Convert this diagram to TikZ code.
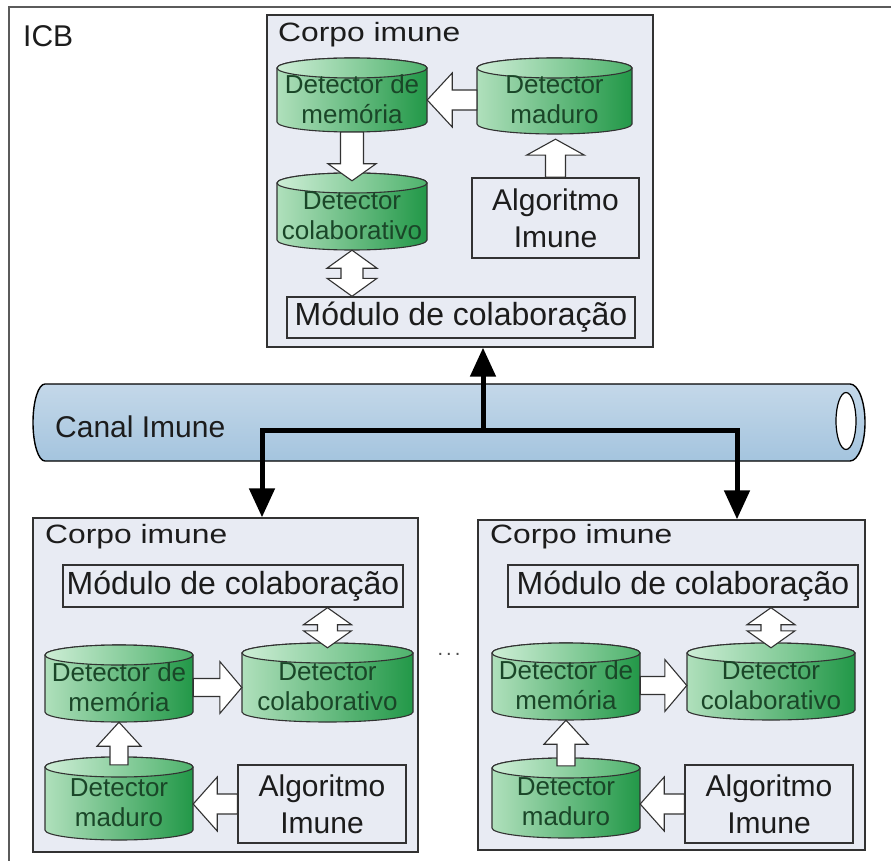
\documentclass[tikz,border=0pt]{standalone}
\usepackage{fontspec}
\setmainfont{Liberation Sans}
\newfontfamily\corpofont{Liberation Sans}[FakeStretch=1.2]
\usetikzlibrary{calc,arrows.meta}
\definecolor{boxline}{RGB}{50,50,50}
\definecolor{corpofill}{RGB}{232,235,243}
\definecolor{cylL}{RGB}{176,224,188}
\definecolor{cylR}{RGB}{34,152,72}
\definecolor{cylTL}{RGB}{206,238,214}
\definecolor{cylTR}{RGB}{78,178,108}
\definecolor{cyltxt}{RGB}{26,70,40}
\definecolor{pipeT}{RGB}{196,216,233}
\definecolor{pipeM}{RGB}{222,234,244}
\definecolor{pipeB}{RGB}{164,196,222}
\definecolor{txt}{RGB}{28,28,28}

\newcommand\cylry{10}
\newcommand\cyl[6]{%
  \path[cylbody] ({#2-#4/2},{#3-#5/2+\cylry}) -- ({#2-#4/2},{#3+#5/2-\cylry})
    arc[start angle=180,end angle=0,x radius={#4/2},y radius=\cylry]
    -- ({#2+#4/2},{#3-#5/2+\cylry})
    arc[start angle=0,end angle=-180,x radius={#4/2},y radius=\cylry] -- cycle;
  \path[cyltop] (#2,{#3-#5/2+\cylry}) ellipse[x radius={#4/2},y radius=\cylry];
  \node[cyltext, minimum width=#4pt, minimum height={(#5-8)*1pt}] (#1) at (#2,{#3+4}) {#6};
}
% single block arrow: from, to, shaft half width, head half width, head length
\newcommand\blockarr[5]{%
  \coordinate (bah) at ($(#2)!#5!(#1)$);
  \filldraw[blockarrow] ($(#1)!#3!90:(#2)$) -- ($(bah)!#3!90:(#2)$) -- ($(bah)!#4!90:(#2)$)
    -- (#2) -- ($(bah)!#4!-90:(#2)$) -- ($(bah)!#3!-90:(#2)$) -- ($(#1)!#3!-90:(#2)$) -- cycle;
}
% double block arrow
\newcommand\dblarr[5]{%
  \coordinate (dah) at ($(#1)!#5!(#2)$);
  \coordinate (dbh) at ($(#2)!#5!(#1)$);
  \filldraw[blockarrow] (#1) -- ($(dah)!#4!90:(#2)$) -- ($(dah)!#3!90:(#2)$)
    -- ($(dbh)!#3!-90:(#1)$) -- ($(dbh)!#4!-90:(#1)$) -- (#2)
    -- ($(dbh)!#4!90:(#1)$) -- ($(dbh)!#3!90:(#1)$)
    -- ($(dah)!#3!-90:(#2)$) -- ($(dah)!#4!-90:(#2)$) -- cycle;
}

\begin{document}
\begin{tikzpicture}[x=1pt,y=-1pt,
  corpo/.style={draw=boxline, line width=1.4pt, fill=corpofill, inner sep=0},
  plainbox/.style={draw=boxline, line width=1.4pt, inner sep=0, align=center, text=txt},
  modfont/.style={font=\fontsize{32}{36}\selectfont},
  algfont/.style={font=\fontsize{30}{37}\selectfont},
  corpolbl/.style={anchor=base west, inner sep=0, text=txt, font=\corpofont\fontsize{26.5}{30}\selectfont},
  cylbody/.style={draw=boxline, line width=1.1pt, left color=cylL, right color=cylR},
  cyltop/.style={draw=boxline, line width=1.1pt, left color=cylTL, right color=cylTR},
  cyltext/.style={inner sep=0, align=center, text=cyltxt, font=\fontsize{26}{30}\selectfont},
  blockarrow/.style={draw=boxline, fill=white, line width=1.1pt, line join=miter},
  bigarrow/.style={draw=black, line width=5pt, line join=miter, -{Triangle[width=25pt,length=29pt]}},
  pipe/.style={draw=black, line width=1.4pt, top color=pipeT, middle color=pipeM, bottom color=pipeB},
  frame/.style={draw=boxline!80, line width=1.6pt}
]
\fill[white] (0,0) rectangle (891,861);
\useasboundingbox (0,0) rectangle (891,861);

% outer frame (ICB)
\draw[frame] (9,861) -- (9,7) -- (891,7);
\node[anchor=base west, inner sep=0, text=txt, font=\fontsize{30}{34}\selectfont] (icb) at (23,47) {ICB};

% ---------- top corpo imune ----------
\node[corpo, minimum width=386pt, minimum height=332pt] (ctop) at (460,181) {};
\node[corpolbl] (ctoplbl) at (278,42) {Corpo imune};
\cyl{memT}{352}{95}{150}{74}{Detector de\\memória}
\cyl{madT}{554.5}{96}{155}{76}{Detector\\maduro}
\cyl{colT}{352}{211.5}{150}{77}{Detector\\colaborativo}
\node[plainbox, algfont, minimum width=167pt, minimum height=80pt] (algT) at (555.5,218) {Algoritmo\\Imune};
\node[plainbox, modfont, minimum width=348pt, minimum height=41pt] (modT) at (461,317.5) {Módulo de colaboração};

\coordinate (t1) at (memT.east |- madT.west);
\blockarr{madT.west}{t1}{10pt}{27pt}{25pt}
\blockarr{memT.south}{colT.north}{11.5pt}{24pt}{17pt}
\coordinate (t3) at ($(algT.north |- madT.south)+(0,5)$);
\blockarr{algT.north}{t3}{10pt}{29pt}{16pt}
\coordinate (t4) at (colT.south |- modT.north);
\dblarr{colT.south}{t4}{11pt}{25pt}{18pt}

% ---------- bottom left corpo imune ----------
\node[corpo, minimum width=385pt, minimum height=334pt] (cbl) at (225.5,685) {};
\node[corpolbl] (cbllbl) at (45,543) {Corpo imune};
\node[plainbox, modfont, minimum width=340pt, minimum height=42pt] (modL) at (233,586) {Módulo de colaboração};
\cyl{memL}{119}{683.5}{148}{77}{Detector de\\memória}
\cyl{colL}{327.5}{682.5}{171}{79}{Detector\\colaborativo}
\cyl{madL}{119}{798.5}{148}{83}{Detector\\maduro}
\node[plainbox, algfont, minimum width=168pt, minimum height=78pt] (algL) at (322,804) {Algoritmo\\Imune};

\coordinate (l1) at (colL.north |- modL.south);
\coordinate (l1b) at ($(colL.north)+(0,-3)$);
\dblarr{l1}{l1b}{10pt}{24pt}{17pt}
\coordinate (l2) at (colL.west |- memL.east);
\blockarr{memL.east}{l2}{9pt}{26pt}{22pt}
\blockarr{madL.north}{memL.south}{9pt}{22pt}{24pt}
\coordinate (l4) at (madL.east |- algL.west);
\blockarr{algL.west}{l4}{10pt}{27pt}{24pt}

% ---------- bottom right corpo imune ----------
\node[corpo, minimum width=387pt, minimum height=330pt] (cbr) at (671.5,685) {};
\node[corpolbl] (cbrlbl) at (490,543) {Corpo imune};
\node[plainbox, modfont, minimum width=350pt, minimum height=42pt] (modR) at (683,586) {Módulo de colaboração};
\cyl{memR}{566}{681.5}{148}{77}{Detector de\\memória}
\cyl{colR}{771}{681.5}{168}{77}{Detector\\colaborativo}
\cyl{madR}{566}{798}{148}{80}{Detector\\maduro}
\node[plainbox, algfont, minimum width=168pt, minimum height=78pt] (algR) at (769,804) {Algoritmo\\Imune};

\coordinate (r1) at (colR.north |- modR.south);
\coordinate (r1b) at ($(colR.north)+(0,-3)$);
\dblarr{r1}{r1b}{10pt}{24pt}{17pt}
\coordinate (r2) at (colR.west |- memR.east);
\blockarr{memR.east}{r2}{9pt}{26pt}{22pt}
\blockarr{madR.north}{memR.south}{9pt}{22pt}{24pt}
\coordinate (r4) at (madR.east |- algR.west);
\blockarr{algR.west}{r4}{10pt}{27pt}{24pt}

% dots between the lower bodies
\node[inner sep=0, text=black!70, font=\fontsize{20}{20}\selectfont] (dots) at (449,654) {.\hspace{3pt}.\hspace{3pt}.};

% ---------- canal imune (pipe) ----------
\path[pipe] (45,384) -- (850,384) arc[start angle=-90,end angle=90,x radius=15,y radius=38.5]
  -- (45,461) arc[start angle=90,end angle=270,x radius=12,y radius=38.5] -- cycle;
\path[draw=black, line width=1.2pt, fill=white] (846,421) ellipse[x radius=10,y radius=28.5];
\node[anchor=base west, inner sep=0, text=txt, font=\fontsize{30}{34}\selectfont] (canallbl) at (55,437) {Canal Imune};

% ---------- connectors ----------
\coordinate (j) at (483,430);
\coordinate (jl) at (262,430);
\coordinate (jr) at (737,430);
\draw[bigarrow] (j) -- (j |- ctop.south);
\draw[bigarrow] (j) -| (jl |- cbl.north);
\draw[bigarrow] (j) -| (jr |- cbr.north);
\end{tikzpicture}
\end{document}
